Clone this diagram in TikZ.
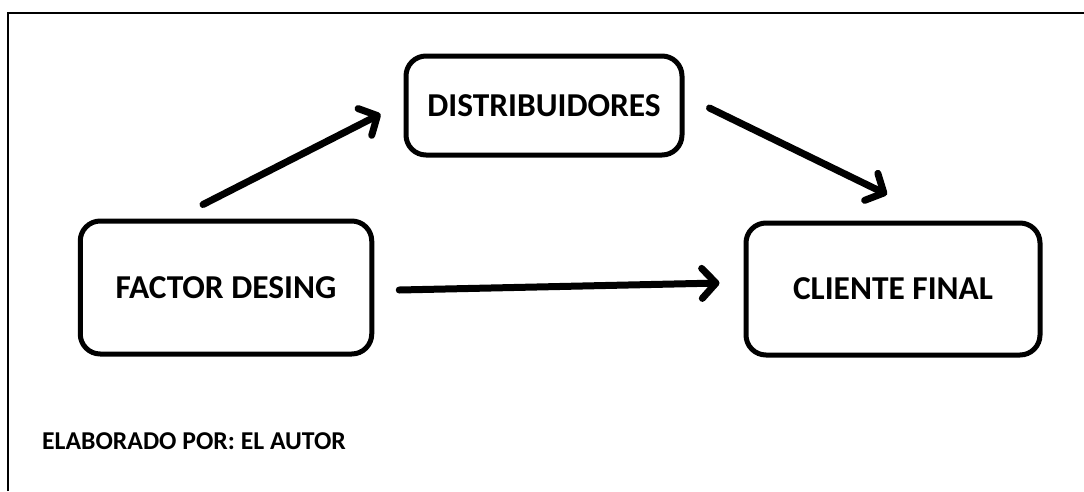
\documentclass[tikz,border=0pt]{standalone}
\usepackage{fontspec}
\setmainfont{Carlito}
\usetikzlibrary{arrows.meta,calc}

\tikzset{
  stagebox/.style={draw=black, line width=5pt, rounded corners=20pt, fill=white,
    font=\bfseries\fontsize{33.4}{40}\selectfont, inner sep=0pt, align=center},
  flow/.style={line width=7pt, line cap=round,
    -{Straight Barb[length=14pt,width=30pt,round]}},
  frameline/.style={line width=2.5pt, draw=black}
}

\begin{document}
\begin{tikzpicture}[x=1pt,y=-1pt]
  \useasboundingbox (0,0) rectangle (1084,491);

  % outer frame (top and left edges)
  \draw[frameline] (8,491) -- (8,13) -- (1084,13);

  % stages of the chain
  \node[stagebox, minimum width=276pt, minimum height=99pt] (ds) at (544,105.5) {DISTRIBUIDORES};
  \node[stagebox, minimum width=291.5pt, minimum height=133pt] (fd) at (226,287.5) {FACTOR DESING};
  \node[stagebox, minimum width=294pt, minimum height=132pt] (cf) at (893,289) {CLIENTE FINAL};

  % connectors
  \draw[flow] ($(fd.north)+(-23,-14)$) -- ($(ds.west)+(-23,8.5)$);
  \draw[flow] ($(ds.east)+(25,2.5)$) -- ($(cf.north)+(-6,-26)$);
  \draw[flow] ($(fd.east)+(25,2.5)$) -- ($(cf.west)+(-24,-6)$);

  % source note
  \node[anchor=west, inner sep=0pt, font=\bfseries\fontsize{25.7}{30}\selectfont] (src) at (42,441) {ELABORADO POR: EL AUTOR};
\end{tikzpicture}
\end{document}
